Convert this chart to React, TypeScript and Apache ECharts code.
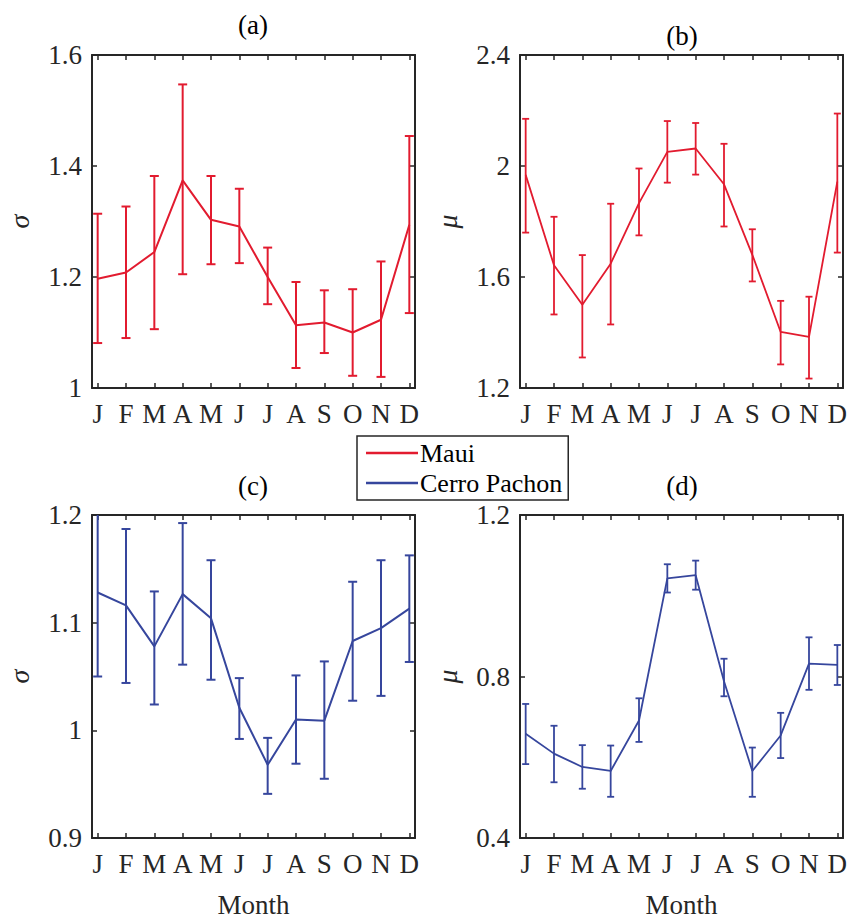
import React, { useEffect, useRef } from "react";
import * as echarts from "echarts";

const monthLabels = ["J", "F", "M", "A", "M", "J", "J", "A", "S", "O", "N", "D"];
const months = [1, 2, 3, 4, 5, 6, 7, 8, 9, 10, 11, 12];

// (a) Maui sigma
const mauiSigmaMean = [1.197, 1.208, 1.245, 1.374, 1.303, 1.291, 1.2, 1.113, 1.118, 1.1, 1.123, 1.294];
const mauiSigmaLow = [1.081, 1.09, 1.106, 1.205, 1.223, 1.225, 1.151, 1.036, 1.063, 1.022, 1.02, 1.135];
const mauiSigmaHigh = [1.314, 1.327, 1.382, 1.547, 1.382, 1.359, 1.253, 1.191, 1.176, 1.178, 1.228, 1.454];

// (b) Maui mu
const mauiMuMean = [1.968, 1.642, 1.5, 1.648, 1.866, 2.051, 2.063, 1.934, 1.68, 1.402, 1.384, 1.944];
const mauiMuLow = [1.76, 1.465, 1.31, 1.429, 1.75, 1.94, 1.969, 1.782, 1.584, 1.285, 1.234, 1.688];
const mauiMuHigh = [2.17, 1.817, 1.679, 1.864, 1.991, 2.162, 2.155, 2.08, 1.772, 1.514, 1.529, 2.189];

// (c) Cerro Pachon sigma
const cpSigmaMean = [1.128, 1.116, 1.078, 1.1265, 1.104, 1.021, 0.968, 1.01, 1.009, 1.083, 1.095, 1.113];
const cpSigmaLow = [1.05, 1.044, 1.024, 1.061, 1.047, 0.992, 0.941, 0.969, 0.955, 1.0275, 1.032, 1.0635];
const cpSigmaHigh = [1.206, 1.187, 1.129, 1.1925, 1.158, 1.0485, 0.993, 1.051, 1.064, 1.138, 1.158, 1.1625];

// (d) Cerro Pachon mu
const cpMuMean = [0.658, 0.609, 0.576, 0.566, 0.691, 1.043, 1.051, 0.788, 0.566, 0.654, 0.832, 0.829];
const cpMuLow = [0.583, 0.538, 0.522, 0.502, 0.638, 1.008, 1.015, 0.751, 0.502, 0.598, 0.767, 0.779];
const cpMuHigh = [0.732, 0.678, 0.63, 0.629, 0.746, 1.078, 1.087, 0.844, 0.624, 0.71, 0.897, 0.878];

const panelTitles = ["(a)", "(b)", "(c)", "(d)"];
const seriesNames = ["Maui", "Cerro Pachon"];

const RED = "#E21B2F";
const BLUE = "#36469D";
const AX = "#262626";
const FONT = "Liberation Serif";

export default function App() {
  const ref = useRef<HTMLDivElement>(null);

  useEffect(() => {
    if (!ref.current) return;
    const chart = echarts.init(ref.current, undefined, { renderer: "svg" });

    const panels = [
      { grid: { left: 92, top: 55, width: 323, height: 333 }, y: [1, 1.6, 0.2], yName: "σ", mean: mauiSigmaMean, lo: mauiSigmaLow, hi: mauiSigmaHigh, color: RED, name: seriesNames[0], lw: 2, cap: 4.5, xName: "" },
      { grid: { left: 520, top: 55, width: 323, height: 333 }, y: [1.2, 2.4, 0.4], yName: "μ", mean: mauiMuMean, lo: mauiMuLow, hi: mauiMuHigh, color: RED, name: seriesNames[0], lw: 1.8, cap: 3.5, xName: "" },
      { grid: { left: 92, top: 515, width: 323, height: 334 }, y: [0.9, 1.2, 0.1], yName: "σ", mean: cpSigmaMean, lo: cpSigmaLow, hi: cpSigmaHigh, color: BLUE, name: seriesNames[1], lw: 2, cap: 4.5, xName: "Month" },
      { grid: { left: 520, top: 515, width: 323, height: 334 }, y: [0.4, 1.2, 0.4], yName: "μ", mean: cpMuMean, lo: cpMuLow, hi: cpMuHigh, color: BLUE, name: seriesNames[1], lw: 1.8, cap: 3.5, xName: "Month" },
    ];

    const grids: any[] = [];
    const xAxes: any[] = [];
    const yAxes: any[] = [];
    const series: any[] = [];

    const axisLine = { show: true, onZero: false, lineStyle: { color: AX, width: 2 } };

    panels.forEach((p, i) => {
      grids.push({ ...p.grid, containLabel: false, show: false });
      xAxes.push({
        type: "value",
        gridIndex: i,
        position: "bottom",
        min: 0.8,
        max: 12.2,
        axisLine,
        splitLine: { show: false },
        axisTick: { show: true, inside: true, length: 5, customValues: months, lineStyle: { color: AX, width: 1.5 } },
        axisLabel: {
          show: true,
          customValues: months,
          formatter: (v: number) => monthLabels[Math.round(v) - 1] ?? "",
          color: AX,
          fontFamily: FONT,
          fontSize: 27,
          margin: 12,
        },
        name: p.xName,
        nameLocation: "middle",
        nameGap: 53,
        nameTextStyle: { color: AX, fontFamily: FONT, fontSize: 27 },
      });
      xAxes.push({
        type: "value",
        gridIndex: i,
        position: "top",
        min: 0.8,
        max: 12.2,
        axisLine,
        splitLine: { show: false },
        axisTick: { show: true, inside: true, length: 5, customValues: months, lineStyle: { color: AX, width: 1.5 } },
        axisLabel: { show: false },
      });
      yAxes.push({
        type: "value",
        gridIndex: i,
        position: "left",
        min: p.y[0],
        max: p.y[1],
        interval: p.y[2],
        axisLine,
        splitLine: { show: false },
        axisTick: { show: true, inside: true, length: 5, lineStyle: { color: AX, width: 1.5 } },
        axisLabel: { color: AX, fontFamily: FONT, fontSize: 27, margin: 10 },
        name: p.yName,
        nameLocation: "middle",
        nameRotate: 90,
        nameGap: 59,
        nameTextStyle: { color: AX, fontFamily: FONT, fontSize: 28, fontStyle: "italic" },
      });
      yAxes.push({
        type: "value",
        gridIndex: i,
        position: "right",
        min: p.y[0],
        max: p.y[1],
        interval: p.y[2],
        axisLine,
        splitLine: { show: false },
        axisTick: { show: true, inside: true, length: 5, lineStyle: { color: AX, width: 1.5 } },
        axisLabel: { show: false },
      });

      series.push({
        type: "line",
        name: p.name,
        xAxisIndex: i * 2,
        yAxisIndex: i * 2,
        data: months.map((m, k) => [m, p.mean[k]]),
        symbol: "none",
        lineStyle: { color: p.color, width: p.lw },
        itemStyle: { color: p.color },
        z: 3,
      });

      const color = p.color;
      const lw = p.lw;
      const cap = p.cap;
      series.push({
        type: "custom",
        xAxisIndex: i * 2,
        yAxisIndex: i * 2,
        data: months.map((m, k) => [m, p.lo[k], p.hi[k]]),
        encode: { x: 0, y: [1, 2] },
        z: 4,
        renderItem: (params: any, api: any) => {
          const x = api.value(0);
          const lo = api.coord([x, api.value(1)]);
          const hi = api.coord([x, api.value(2)]);
          const cs = params.coordSys;
          const top = cs.y;
          const bottom = cs.y + cs.height;
          const style = { stroke: color, lineWidth: lw, fill: "none" };
          const yHi = Math.max(hi[1], top);
          const yLo = Math.min(lo[1], bottom);
          const children: any[] = [
            { type: "line", shape: { x1: lo[0], y1: yLo, x2: hi[0], y2: yHi }, style },
          ];
          if (hi[1] >= top) children.push({ type: "line", shape: { x1: hi[0] - cap, y1: hi[1], x2: hi[0] + cap, y2: hi[1] }, style });
          if (lo[1] <= bottom) children.push({ type: "line", shape: { x1: lo[0] - cap, y1: lo[1], x2: lo[0] + cap, y2: lo[1] }, style });
          return { type: "group", children };
        },
      });
    });

    const titlePos = [
      { left: 253, top: 11 },
      { left: 682, top: 22 },
      { left: 253, top: 472 },
      { left: 682, top: 472 },
    ];

    chart.setOption({
      animation: false,
      backgroundColor: "#ffffff",
      textStyle: { fontFamily: FONT },
      title: panelTitles.map((t, i) => ({
        text: t,
        left: titlePos[i].left,
        top: titlePos[i].top,
        textAlign: "center",
        padding: 0,
        textStyle: { color: "#000", fontFamily: FONT, fontSize: 27, fontWeight: "normal" },
      })),
      legend: {
        show: true,
        data: seriesNames.map((n) => ({ name: n, icon: "rect" })),
        orient: "vertical",
        left: 357,
        top: 436,
        itemWidth: 52,
        itemHeight: 2.5,
        itemGap: 4,
        padding: [4, 6, 4, 9],
        borderColor: AX,
        borderWidth: 1.5,
        backgroundColor: "#ffffff",
        selectedMode: false,
        textStyle: { color: "#000", fontFamily: FONT, fontSize: 26, lineHeight: 26, padding: [0, 0, 0, -3] },
      },
      grid: grids,
      xAxis: xAxes,
      yAxis: yAxes,
      series,
    });

    return () => chart.dispose();
  }, []);

  return <div ref={ref} style={{ position: "absolute", left: 0, top: 0, width: 852, height: 919 }} />;
}
